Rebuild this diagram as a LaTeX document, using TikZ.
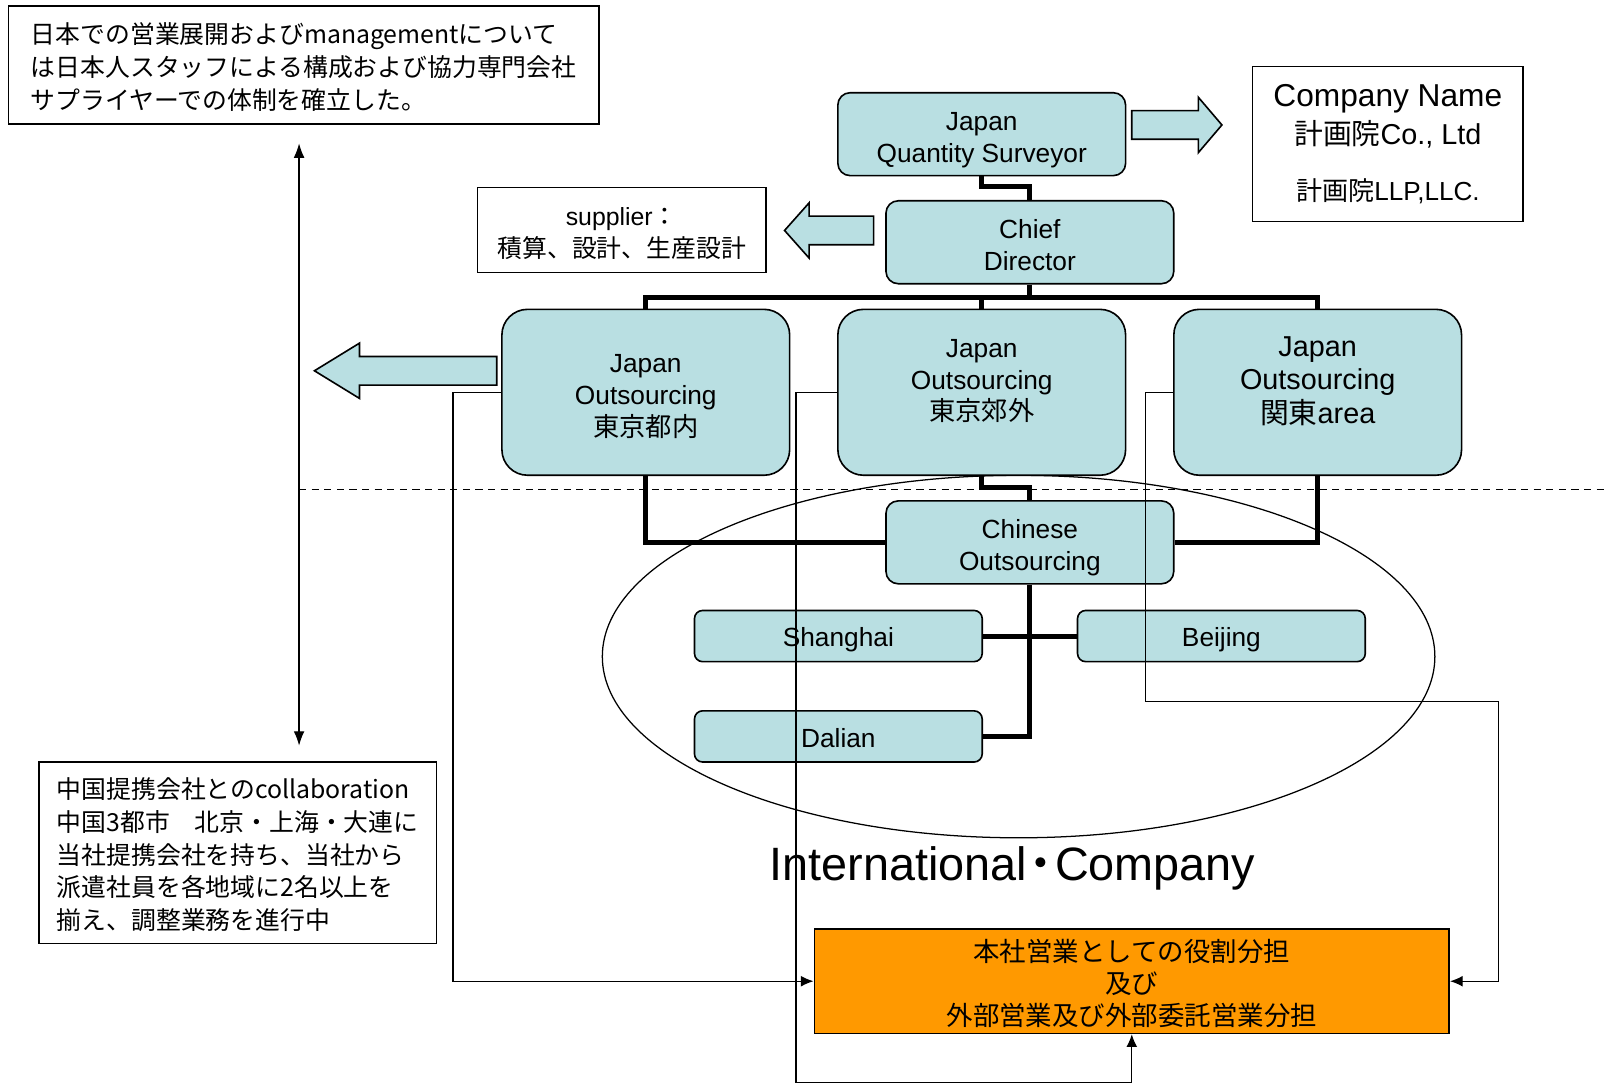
\documentclass[tikz,border=0pt]{standalone}
\usepackage{fontspec}
\setmainfont{Liberation Sans}
\newfontfamily\jp{Noto Sans CJK JP}
\usetikzlibrary{arrows.meta}
\tikzset{>={Latex[length=8pt,width=6pt]}}
\definecolor{boxfill}{HTML}{B9DFE2}
\definecolor{rolefill}{HTML}{FF9900}
\newcommand\boxfont{\fontsize{14.6}{17.6}\selectfont}
\newcommand\bigboxfont{\fontsize{16}{18.5}\selectfont}
\newcommand\notefont{\fontsize{13.8}{18.2}\selectfont\jp}
\newcommand\linestrut{\rule[-0.21em]{0pt}{1.35em}}
\newcommand\citystrut{\rule[-0.21em]{0pt}{1.25em}}
\tikzstyle{strutted}=[execute at end node=\linestrut]
\tikzstyle{org base}=[draw,fill=boxfill,line width=0.9pt,rounded corners=0.24cm,minimum width=5.62cm,minimum height=1.62cm,inner sep=0pt,align=center,font=\boxfont]
\tikzstyle{org}=[org base,strutted]
\tikzstyle{org big}=[org,rounded corners=0.5cm,minimum height=3.24cm]
\tikzstyle{city}=[org base,rounded corners=0.16cm,minimum height=1cm,execute at end node=\citystrut]
\tikzstyle{box label}=[align=center,inner sep=0pt,font=\boxfont]
\tikzstyle{plain note}=[draw,fill=white,line width=0.8pt,inner sep=0pt,align=left,font=\notefont]
\tikzstyle{note}=[plain note,strutted]
\tikzstyle{link}=[line width=2.8pt]
\tikzstyle{feed}=[line width=0.7pt,-{Latex[length=7pt,width=6pt]}]
\tikzstyle{block arrow}=[draw,fill=boxfill,line width=0.9pt]
\newcommand{\blockarrow}[3]
{  % #1 = tail point, #2 = shaft length, #3 = head length (negative = to the left)
  \draw[block arrow] (#1) ++(0,-14) -- ++(#2,0) -- ++(0,-13) -- ++(#3,27)
     -- ++({-1*(#3)},27) -- ++(0,-13) -- ++({-1*(#2)},0) -- cycle;
}
\begin{document}
\begin{tikzpicture}[x=0.02cm,y=-0.02cm]
  \path[use as bounding box,fill=white] (0,0) rectangle (1568,1062);
  \draw[line width=0.7pt] (994.5,641) ellipse [x radius=8.13cm,y radius=3.54cm];
  \draw[dashed,dash pattern=on 4pt off 3pt,line width=0.7pt] (292,478) -- (1568,478);
  % notes
  \node[note,minimum width=11.54cm,minimum height=2.3cm] (jpnote) at (296.5,63.5)
    {\linestrut 日本での営業展開およびmanagementについて\\は日本人スタッフによる構成および協力専門会社\\サプライヤーでの体制を確立した。};
  \node[note,minimum width=7.76cm,minimum height=3.54cm] (cnnote) at (232,832.5)
    {\linestrut 中国提携会社とのcollaboration\\中国3都市　北京・上海・大連に\\当社提携会社を持ち、当社から\\派遣社員を各地域に2名以上を\\揃え、調整業務を進行中};
  \node[note,align=center,minimum width=5.64cm,minimum height=1.66cm,font=\fontsize{13.8}{18.2}\selectfont] (supplier) at (607,224.5)
    {\linestrut supplier{\jp ：}\\{\jp 積算、設計、生産設計}};
  \node[plain note,align=center,minimum width=5.28cm,minimum height=3.02cm,font=\fontsize{17.6}{21}\selectfont] (company) at (1355,140.5)
    {Company Name\\{\fontsize{16}{19}\selectfont{\jp 計画院}Co., Ltd}\\[0.35cm]{\fontsize{14.5}{17}\selectfont{\jp 計画院}LLP,LLC.}};
  % organisation
  \node[org] (qs) at (958.5,131) {\linestrut Japan\\Quantity Surveyor};
  \node[org] (chief) at (1005.5,236.5) {\linestrut Chief\\Director};
  \node[org big] (jo1) at (630.5,383) {\linestrut Japan\\Outsourcing\\{\jp 東京都内}};
  \node[org big,label={[box label,yshift=0.22cm]center:{Japan\\Outsourcing\\{\jp 東京郊外}}}] (jo2) at (958.5,383) {};
  \node[org big,label={[box label,font=\bigboxfont,yshift=0.22cm]center:{Japan\\Outsourcing\\{\jp 関東}area}}] (jo3) at (1286.5,383) {};
  \node[org] (chinese) at (1005.5,529.5) {\linestrut Chinese\\Outsourcing};
  \node[city] (shanghai) at (818.5,621) {Shanghai};
  \node[city] (beijing) at (1192.5,621) {Beijing};
  \node[city] (dalian) at (818.5,719) {Dalian};
  \node[font=\fontsize{26}{30}\selectfont] (intl) at (988.5,848) {International{\jp\kern-0.2em・\kern-0.2em}Company};
  \node[draw,fill=rolefill,line width=0.9pt,minimum width=12.4cm,minimum height=2.04cm,align=center,inner sep=0pt,
        font=\fontsize{14.7}{17.6}\selectfont\jp,strutted] (role) at (1105,958)
    {\linestrut 本社営業としての役割分担\\及び\\外部営業及び外部委託営業分担};
  % connectors
  \draw[link] (qs.south) -- ++(0,10) -| (chief.north);
  \draw[link] (chief.south) -- ++(0,14);
  \draw[link] (jo1.north) -- ++(0,-11) -| (jo3.north);
  \draw[link] (jo2.north) -- ++(0,-11);
  \draw[link] (jo2.south) -- ++(0,11) -| (chinese.north);
  \draw[link] (jo1.south) |- (chinese.west);
  \draw[link] (jo3.south) |- (chinese.east);
  \draw[link] (chinese.south) |- (dalian.east);
  \draw[link] (shanghai.east) -- (beijing.west);
  \draw[feed] (jo1.west) -- ++(-47,0) |- (role.west);
  \draw[feed] (jo2.west) -- ++(-40,0) |- ([yshift=-0.94cm]role.south) -- (role.south);
  \draw[feed] (jo3.west) -- ++(-27,0) -- ++(0,302) -| ([xshift=0.94cm]role.east) -- (role.east);
  \blockarrow{485,362}{-134}{-44}
  \blockarrow{853,225}{-63}{-24}
  \blockarrow{1105,122}{65}{23}
  \coordinate (jpup) at (292,140);
  \coordinate (cndown) at (292,728);
  \draw[<->,line width=0.7pt] (jpup) -- (cndown);
\end{tikzpicture}
\end{document}
